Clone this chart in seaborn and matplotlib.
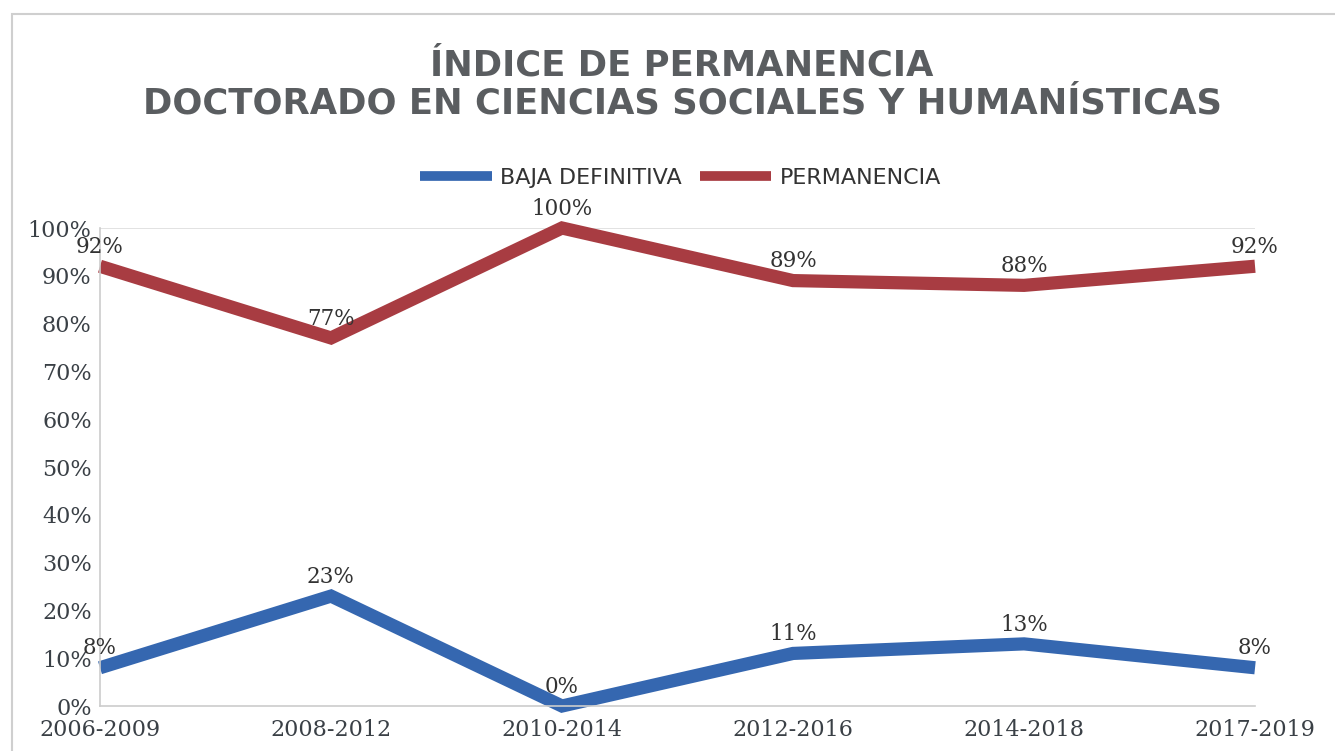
import pandas as pd
import seaborn as sns
import matplotlib.pyplot as plt
from matplotlib.patches import Rectangle

# datos del gráfico
periodos = ['2006-2009', '2008-2012', '2010-2014', '2012-2016', '2014-2018', '2017-2019']
baja_definitiva = [0.08, 0.23, 0.00, 0.11, 0.13, 0.08]
permanencia = [0.92, 0.77, 1.00, 0.89, 0.88, 0.92]
series = ['BAJA DEFINITIVA', 'PERMANENCIA']
colores = ['#3567b0', '#a83c42']

df = pd.DataFrame({
    'Periodo': periodos * 2,
    'x': list(range(len(periodos))) * 2,
    'Valor': baja_definitiva + permanencia,
    'Serie': [series[0]] * len(periodos) + [series[1]] * len(periodos),
})

sns.set_style('white')
plt.rcParams['font.family'] = ['DejaVu Sans']

fig = plt.figure(figsize=(13.35, 7.51), dpi=100)
ax = fig.add_axes([0.0749, 0.0599, 0.8652, 0.6365])

sns.lineplot(data=df, x='x', y='Valor', hue='Serie', palette=colores,
             linewidth=9.5, ax=ax, legend=False, clip_on=False,
             solid_capstyle='butt', solid_joinstyle='miter')

# etiquetas de datos
color_txt = '#333333'
for vals in [baja_definitiva, permanencia]:
    for i, v in enumerate(vals):
        ax.annotate(f'{v:.0%}', (i, v), xytext=(0, 6), textcoords='offset points',
                    ha='center', va='bottom', fontsize=15.5, color=color_txt,
                    family='DejaVu Serif')

ax.set_xlim(0, len(periodos) - 1)
ax.set_ylim(0, 1)
ax.set_xticks(range(len(periodos)))
ax.set_xticklabels(periodos)
ax.set_yticks([i / 10 for i in range(11)])
ax.set_yticklabels([f'{i * 10}%' for i in range(11)])
ax.tick_params(axis='both', length=0, labelsize=16, labelcolor='#3a4046')
ax.tick_params(axis='x', pad=9)
ax.tick_params(axis='y', pad=6)
for lab in ax.get_xticklabels() + ax.get_yticklabels():
    lab.set_family('DejaVu Serif')
ax.set_xlabel('')
ax.set_ylabel('')
ax.axhline(1.0, color='#dddddd', linewidth=1.2, zorder=0)
for s in ['top', 'right']:
    ax.spines[s].set_visible(False)
for s in ['left', 'bottom']:
    ax.spines[s].set_color('#cccccc')
    ax.spines[s].set_linewidth(1.2)

# leyenda
handles = [plt.Line2D([], [], color=c, linewidth=7, solid_capstyle='butt') for c in colores]
fig.legend(handles, series, loc='center', bbox_to_anchor=(0.51, 0.763), ncol=2,
           frameon=False, handlelength=3.2, columnspacing=0.8,
           handletextpad=0.4, labelcolor='#333333',
           prop={'family': 'DejaVu Sans Condensed', 'size': 16})

# título
fig.text(0.511, 0.913, 'ÍNDICE DE PERMANENCIA', ha='center', va='center',
         fontsize=25.5, fontweight='bold', color='#5a5d60')
fig.text(0.511, 0.862, 'DOCTORADO EN CIENCIAS SOCIALES Y HUMANÍSTICAS', ha='center', va='center',
         fontsize=25.5, fontweight='bold', color='#5a5d60')

# borde del gráfico
fig.patches.append(Rectangle((12 / 1335, -0.01), 1.2, 1 - 14 / 751 + 0.01,
                             transform=fig.transFigure, fill=False,
                             edgecolor='#cfcfcf', linewidth=1.5))

plt.savefig('out.png', dpi=100)
